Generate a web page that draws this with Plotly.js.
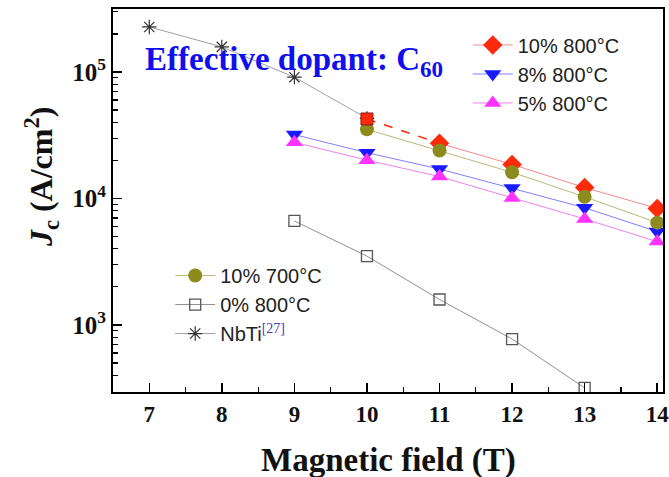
<!DOCTYPE html>
<html>
<head>
<meta charset="utf-8">
<script src="https://cdn.plot.ly/plotly-3.0.1.min.js"></script>
<style>html,body{margin:0;padding:0;background:#fff;}#chart{width:669px;height:477px;}</style>
</head>
<body>
<div id="chart"></div>
<script>
// Data
const field = [9, 10, 11, 12, 13, 14];
const field10 = [10, 11, 12, 13, 14];
const field800_10 = [11, 12, 13, 14];
const jc10pct800 = [27300, 18600, 12200, 8350];
const jc10pct800At10 = [42500];
const jc10pct800Dashed = [42500, 27300];
const jc8pct800 = [32000, 23000, 17100, 12100, 8450, 5470];
const jc5pct800 = [27800, 20100, 14900, 10100, 6890, 4560];
const jc10pct700 = [35200, 23900, 16100, 10300, 6440];
const field0 = [9, 10, 11, 12, 13];
const jc0pct800 = [6640, 3500, 1590, 774, 318];
const fieldNbTi = [7, 8, 9, 10];
const jcNbTi = [227000, 158000, 91000, 43000];
const yTickVals = [1000, 10000, 100000];
const yTickText = ['10<sup>3</sup>', '10<sup>4</sup>', '10<sup>5</sup>'];
const xTickVals = [7, 8, 9, 10, 11, 12, 13, 14];

const traces = [
  {x: field800_10, y: jc10pct800, name: '10% 800°C', mode: 'lines+markers',
   line: {color: '#f28a8a', width: 1}, marker: {symbol: 'diamond', size: 15, color: '#ff2a0a'}, legend: 'legend'},
  {x: field, y: jc8pct800, name: '8% 800°C', mode: 'lines+markers',
   line: {color: '#8080ff', width: 1}, marker: {symbol: 'triangle-down', size: 15, color: '#1a1aff'}, legend: 'legend'},
  {x: field, y: jc5pct800, name: '5% 800°C', mode: 'lines+markers',
   line: {color: '#f080f0', width: 1}, marker: {symbol: 'triangle-up', size: 15, color: '#ff33ff'}, legend: 'legend'},
  {x: field10, y: jc10pct700, name: '10% 700°C', mode: 'lines+markers',
   line: {color: '#b8b87a', width: 1}, marker: {symbol: 'circle', size: 14, color: '#8c8c1e'}, legend: 'legend2'},
  {x: field0, y: jc0pct800, name: '0% 800°C', mode: 'lines+markers',
   line: {color: '#909090', width: 1}, marker: {symbol: 'square-open', size: 11, color: '#555555', line: {width: 1.3}}, legend: 'legend2'},
  {x: fieldNbTi, y: jcNbTi, name: 'NbTi<sup><span style="color:#4040c0;font-family:Liberation Serif">[27]</span></sup>', mode: 'lines+markers',
   line: {color: '#a0a0a0', width: 1}, marker: {symbol: 'asterisk-open', size: 12, color: '#333333', line: {width: 1.2, color: '#333333'}}, legend: 'legend2'},
  {x: [field10[0], field800_10[0]], y: jc10pct800Dashed, mode: 'lines', showlegend: false,
   line: {color: '#ff2a0a', width: 1.5, dash: 'dash'}},
  {x: [field10[0]], y: jc10pct800At10, mode: 'markers', showlegend: false,
   marker: {symbol: 'square', size: 12, color: '#ff2a0a', line: {color: '#802020', width: 1}}}
];

const layout = {
  width: 669, height: 477,
  margin: {l: 113, r: 6, t: 9, b: 85},
  paper_bgcolor: '#fff', plot_bgcolor: '#fff',
  showlegend: true,
  xaxis: {
    range: [6.5, 14.08], tickvals: xTickVals, ticks: 'inside', ticklen: 9, tickwidth: 1.5, tickcolor: '#000',
    minor: {dtick: 0.5, ticks: 'inside', ticklen: 5, tickwidth: 1.2, tickcolor: '#000'},
    showline: true, linecolor: '#000', linewidth: 2, mirror: true, showgrid: false, zeroline: false,
    ticklabeloverflow: 'allow',
    tickfont: {family: 'Liberation Serif', size: 23, color: '#111', weight: 'bold'}
  },
  yaxis: {
    type: 'log', range: [2.47, 5.498], tickvals: yTickVals, ticktext: yTickText,
    ticks: 'inside', ticklen: 9, tickwidth: 1.5, tickcolor: '#000',
    minor: {dtick: 'D1', ticks: 'inside', ticklen: 5, tickwidth: 1.2, tickcolor: '#000'},
    showline: true, linecolor: '#000', linewidth: 2, mirror: true, showgrid: false, zeroline: false,
    tickfont: {family: 'Liberation Serif', size: 25, color: '#111', weight: 'bold'}
  },
  legend: {x: 0.645, y: 0.957, xanchor: 'left', yanchor: 'top', bgcolor: 'rgba(0,0,0,0)',
    font: {family: 'Liberation Sans', size: 20, color: '#222'}, itemwidth: 40, tracegroupgap: 0},
  legend2: {x: 0.104, y: 0.355, xanchor: 'left', yanchor: 'top', bgcolor: 'rgba(0,0,0,0)',
    font: {family: 'Liberation Sans', size: 20, color: '#222'}, itemwidth: 40, tracegroupgap: 0},
  annotations: [
    {text: '<b>Effective dopant: C<sub>60</sub></b>', xref: 'paper', yref: 'paper', x: 0.055, y: 0.862,
     xanchor: 'left', yanchor: 'middle', showarrow: false,
     font: {family: 'Liberation Serif', size: 33, color: '#1010ee'}},
    {text: '<b>Magnetic field (T)</b>', xref: 'paper', yref: 'paper', x: 0.5, y: -0.178,
     xanchor: 'center', yanchor: 'middle', showarrow: false,
     font: {family: 'Liberation Serif', size: 33, color: '#111'}},
    {text: '<b><i>J</i><sub>c</sub> (A/cm<sup>2</sup>)</b>', xref: 'paper', yref: 'paper', x: -0.13, y: 0.56,
     xanchor: 'center', yanchor: 'middle', showarrow: false, textangle: -90,
     font: {family: 'Liberation Serif', size: 32, color: '#111'}}
  ]
};

Plotly.newPlot('chart', traces, layout, {displayModeBar: false, staticPlot: true});
</script>
</body>
</html>
